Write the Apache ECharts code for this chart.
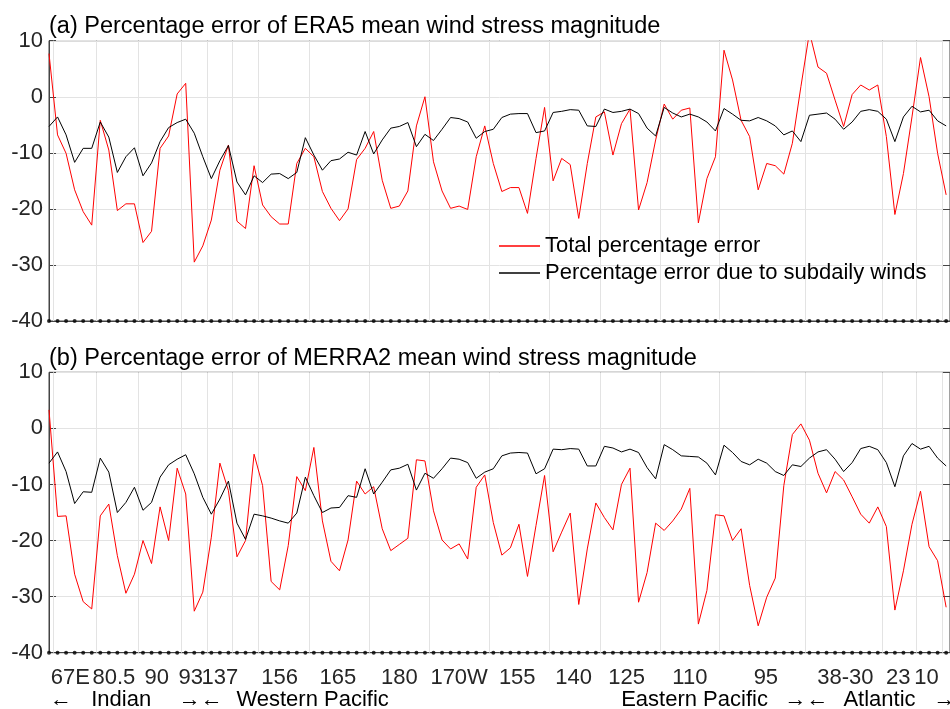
<!DOCTYPE html>
<html>
<head>
<meta charset="utf-8">
<script src="https://cdn.jsdelivr.net/npm/echarts@6/dist/echarts.min.js"></script>
<style>html,body{margin:0;padding:0;background:#fff}#c{width:950px;height:709px}</style>
</head>
<body>
<div id="c"></div>
<script>
// ---- data (station index 0..105 along the equatorial section) ----
const redA = [
  7.7, -6.8, -10.1, -16.6, -20.5, -22.9, -4.2, -9.5, -20.3, -19.1,
  -19.1, -26.0, -24.0, -9.2, -7.0, 0.5, 2.4, -29.5, -26.6, -22.0,
  -13.1, -8.6, -22.2, -23.5, -12.3, -19.3, -21.4, -22.7, -22.7, -11.9,
  -9.2, -10.7, -16.9, -19.9, -22.1, -20.0, -11.2, -9.2, -6.2, -14.9,
  -19.9, -19.5, -16.8, -5.2, 0.0, -11.6, -16.8, -19.9, -19.5, -20.1,
  -10.7, -5.2, -11.9, -16.9, -16.2, -16.2, -20.8, -11.0, -1.9, -15.0,
  -11.0, -12.1, -21.7, -11.9, -3.6, -2.7, -10.4, -4.8, -2.2, -20.2,
  -15.3, -7.7, -1.3, -4.0, -2.4, -2.0, -22.5, -14.6, -10.7, 8.3,
  3.0, -4.2, -7.1, -16.6, -11.9, -12.3, -13.8, -8.3, 1.8, 11.5,
  5.3, 4.2, -0.6, -5.3, 0.4, 2.1, 1.2, 2.1, -7.1, -21.0,
  -13.7, -3.6, 7.0, 0.0, -10.1, -17.5
];
const blackA = [
  -5.3, -3.6, -6.8, -11.7, -9.2, -9.2, -4.5, -7.2, -13.5, -10.7,
  -9.1, -14.1, -11.8, -8.0, -5.5, -4.6, -4.0, -6.5, -10.7, -14.6,
  -11.4, -8.7, -15.2, -17.5, -14.1, -15.3, -13.8, -13.7, -14.6, -13.5,
  -7.3, -10.4, -13.1, -11.4, -11.1, -9.9, -10.4, -6.2, -10.2, -7.7,
  -5.6, -5.3, -4.6, -8.9, -6.7, -7.8, -5.8, -3.7, -3.9, -4.5,
  -7.4, -6.2, -5.8, -3.7, -3.1, -3.0, -3.0, -6.4, -6.1, -2.8,
  -2.6, -2.3, -2.4, -5.2, -5.3, -2.2, -2.8, -2.6, -2.2, -3.0,
  -5.6, -7.0, -1.9, -2.9, -3.6, -3.1, -3.6, -4.5, -6.1, -2.1,
  -3.1, -4.2, -4.3, -3.7, -4.3, -5.2, -6.8, -6.1, -8.0, -3.3,
  -3.1, -2.9, -4.0, -5.8, -4.5, -2.6, -2.3, -2.6, -4.0, -8.0,
  -3.6, -1.7, -2.7, -2.4, -4.3, -5.2
];
const redB = [
  3.3, -15.7, -15.6, -26.0, -30.9, -32.2, -15.6, -13.5, -22.7, -29.4,
  -26.0, -20.0, -24.1, -14.0, -20.0, -7.1, -11.7, -32.6, -29.2, -19.4,
  -6.2, -11.1, -22.9, -20.0, -4.6, -10.2, -27.3, -28.8, -20.9, -8.6,
  -11.1, -3.4, -16.5, -23.7, -25.4, -19.9, -9.4, -11.7, -10.4, -17.9,
  -21.8, -20.7, -19.6, -5.6, -5.8, -14.7, -19.9, -21.5, -20.6, -23.3,
  -10.5, -8.3, -16.8, -22.6, -21.3, -17.1, -26.4, -17.3, -8.4, -22.0,
  -18.5, -15.1, -31.4, -21.5, -13.3, -15.9, -18.1, -10.0, -7.1, -31.0,
  -25.7, -16.9, -18.2, -16.5, -14.4, -10.7, -34.9, -28.9, -15.4, -15.6,
  -20.0, -17.9, -28.0, -35.2, -30.1, -26.7, -10.2, -1.1, 0.8, -2.1,
  -8.0, -11.5, -7.7, -9.2, -12.2, -15.3, -16.9, -14.0, -17.5, -32.4,
  -25.4, -17.1, -11.2, -21.1, -23.6, -31.9
];
const blackB = [
  -6.2, -4.2, -7.7, -13.4, -11.3, -11.4, -5.3, -7.8, -15.0, -13.2,
  -10.5, -14.6, -13.2, -8.7, -6.5, -5.5, -4.7, -8.1, -12.3, -15.3,
  -12.6, -9.4, -16.9, -19.8, -15.3, -15.6, -16.0, -16.5, -16.9, -15.1,
  -8.7, -12.0, -15.0, -14.2, -14.1, -12.0, -12.3, -7.2, -11.7, -9.6,
  -7.4, -7.1, -6.4, -11.0, -8.0, -8.9, -7.2, -5.3, -5.5, -6.1,
  -8.9, -7.8, -7.2, -4.9, -4.4, -4.3, -4.4, -8.1, -7.2, -3.7,
  -3.8, -3.6, -3.7, -6.7, -6.7, -3.2, -3.5, -4.2, -3.7, -4.3,
  -7.0, -9.0, -2.9, -3.8, -4.9, -5.0, -5.1, -6.2, -8.3, -3.0,
  -4.3, -5.9, -6.5, -5.5, -6.2, -7.7, -8.4, -6.5, -6.8, -5.3,
  -4.2, -3.8, -5.5, -7.7, -6.1, -3.6, -3.2, -3.8, -6.1, -10.4,
  -4.9, -2.7, -3.7, -3.2, -5.3, -6.7
];
// tick (grid) positions: boundaries between station groups
const tickBounds = [0.5, 5.5, 10.5, 15.5, 18.5, 21.5, 24.5, 30.5, 37.5, 44.5, 51.5, 58.5, 64.5, 71.5, 78.5, 88.5, 97.5, 101.5, 104.5];
// longitude labels and where they sit
const lonLabels = ['67E', '80.5', '90', '93', '137', '156', '165', '180', '170W', '155', '140', '125', '110', '95', '38-30', '23', '10'];
const lonPos = [2.5, 7.6, 12.6, 16.6, 20.0, 27.0, 33.8, 41.0, 48.0, 54.8, 61.4, 67.6, 75.0, 83.9, 93.2, 99.4, 102.7];
// ocean basin labels
const basinLabels = ['←', 'Indian', '→←', 'Western Pacific', 'Eastern Pacific', '→←', 'Atlantic', '→'];
const basinPos = [1.4, 8.45, 17.75, 30.85, 75.55, 88.65, 97.2, 104.8];
const titles = ['(a) Percentage error of ERA5 mean wind stress magnitude', '(b) Percentage error of MERRA2 mean wind stress magnitude'];
const legendNames = ['Total percentage error', 'Percentage error due to subdaily winds'];

// ---- chart ----
const FONT = 'Liberation Sans, Arial, sans-serif';
const XMAX = 105.45;
const AX = '#444';
const GRIDC = '#e3e3e3';
const grids = [
  { left: 49, right: 0, top: 40.7, height: 280.3, show: true, borderColor: AX, borderWidth: 1, backgroundColor: 'transparent', containLabel: false, outerBoundsMode: 'none' },
  { left: 49, right: 0, top: 372.3, height: 280.4, show: true, borderColor: AX, borderWidth: 1, backgroundColor: 'transparent', containLabel: false, outerBoundsMode: 'none' }
];
const xAxes = [], yAxes = [], series = [];
const pts = arr => arr.map((v, i) => [i, v]);
const dots = redA.map((_, i) => [i, -40]);
[0, 1].forEach(g => {
  xAxes.push({
    type: 'value', gridIndex: g, min: 0, max: XMAX, position: 'bottom',
    axisLine: { show: true, onZero: false, lineStyle: { color: AX, width: 1 } },
    axisTick: { show: true, inside: true, length: 7, customValues: tickBounds, lineStyle: { color: AX } },
    splitLine: { show: false },
    axisLabel: g === 1 ? {
      show: true, customValues: lonPos, margin: 14, fontSize: 22, fontFamily: FONT, color: '#262626',
      formatter: v => { const k = lonPos.indexOf(v); return k >= 0 ? lonLabels[k] : ''; }
    } : { show: false }
  });
  xAxes.push({
    type: 'value', gridIndex: g, min: 0, max: XMAX, position: 'top',
    axisLine: { show: false, onZero: false },
    axisTick: { show: true, inside: true, length: 7, customValues: tickBounds, lineStyle: { color: AX } },
    splitLine: { show: false }, axisLabel: { show: false }
  });
  yAxes.push({
    type: 'value', gridIndex: g, min: -40, max: 10, interval: 10, position: 'left',
    axisLine: { show: true, onZero: false, lineStyle: { color: AX, width: 1 } },
    axisTick: { show: true, inside: true, length: 7, lineStyle: { color: AX } },
    splitLine: { show: true, lineStyle: { color: GRIDC, width: 1 } },
    axisLabel: { show: true, margin: 6, fontSize: 22, fontFamily: FONT, color: '#262626' }
  });
  yAxes.push({
    type: 'value', gridIndex: g, min: -40, max: 10, interval: 10, position: 'right',
    axisLine: { show: false, onZero: false },
    axisTick: { show: true, inside: true, length: 7, lineStyle: { color: AX } },
    splitLine: { show: false }, axisLabel: { show: false }
  });
});
xAxes.push({
  type: 'value', gridIndex: 1, min: 0, max: XMAX, position: 'bottom', offset: 24,
  axisLine: { show: false, onZero: false }, axisTick: { show: false }, splitLine: { show: false },
  axisLabel: {
    show: true, customValues: basinPos, margin: 12, fontSize: 22, fontFamily: FONT, color: '#000',
    formatter: v => { const k = basinPos.indexOf(v); return k >= 0 ? basinLabels[k] : ''; }
  }
});

const data = [[redA, blackA], [redB, blackB]];
[0, 1].forEach(g => {
  const xi = g * 2, yi = g * 2;
  // vertical grid lines at the group boundaries
  series.push({
    type: 'line', xAxisIndex: xi, yAxisIndex: yi, data: [], silent: true, z: 1, animation: false,
    markLine: {
      silent: true, symbol: 'none', animation: false, label: { show: false }, z: 1,
      lineStyle: { color: GRIDC, type: 'solid', width: 1 },
      emphasis: { disabled: true },
      data: tickBounds.map(v => ({ xAxis: v }))
    }
  });
  series.push({
    type: 'line', name: legendNames[0], xAxisIndex: xi, yAxisIndex: yi, data: pts(data[g][0]),
    symbol: 'none', lineStyle: { color: '#ff0000', width: 1 }, itemStyle: { color: '#ff0000' },
    clip: true, z: 3, animation: false
  });
  series.push({
    type: 'line', name: legendNames[1], xAxisIndex: xi, yAxisIndex: yi, data: pts(data[g][1]),
    symbol: 'none', lineStyle: { color: '#000000', width: 1 }, itemStyle: { color: '#000000' },
    clip: true, z: 3, animation: false
  });
  series.push({
    type: 'scatter', xAxisIndex: xi, yAxisIndex: yi, data: dots, symbol: 'circle', symbolSize: 4,
    itemStyle: { color: '#000' }, clip: false, z: 5, animation: false, silent: true
  });
});

const chart = echarts.init(document.getElementById('c'), null, { renderer: 'canvas' });
chart.setOption({
  backgroundColor: '#fff',
  animation: false,
  title: [
    { text: titles[0], left: 49, top: 15, padding: 0, textStyle: { fontSize: 23.5, fontWeight: 'normal', fontFamily: FONT, color: '#000' } },
    { text: titles[1], left: 49, top: 347, padding: 0, textStyle: { fontSize: 23.5, fontWeight: 'normal', fontFamily: FONT, color: '#000' } }
  ],
  legend: {
    data: legendNames, orient: 'vertical', left: 499, top: 235, itemWidth: 41, itemHeight: 1.5, itemGap: 5,
    icon: 'rect', padding: 0, selectedMode: false,
    textStyle: { fontSize: 22, fontFamily: FONT, color: '#000' }
  },
  grid: grids,
  xAxis: xAxes,
  yAxis: yAxes,
  series: series
});
</script>
</body>
</html>
